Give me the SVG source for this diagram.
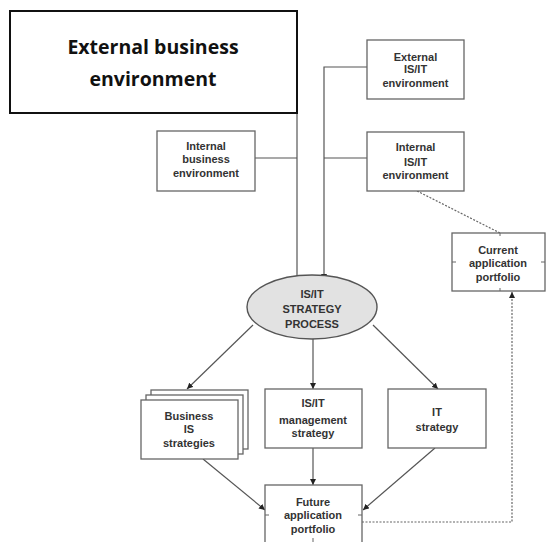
<svg xmlns="http://www.w3.org/2000/svg" width="546" height="542" viewBox="0 0 546 542">
<style>
.box{fill:#fff;stroke:#666;stroke-width:1.3}
.t{font-family:"Liberation Sans",Arial,sans-serif;font-weight:bold;font-size:11px;fill:#333;text-anchor:middle}
.c{fill:none;stroke:#555;stroke-width:1.2}
.d{fill:none;stroke:#666;stroke-width:1.2;stroke-dasharray:2 1.5}
.tick{stroke:#666;stroke-width:1}
</style>
<defs>
<marker id="ah" viewBox="0 0 10 10" refX="10" refY="5" markerWidth="6" markerHeight="6" orient="auto" markerUnits="userSpaceOnUse">
<path d="M0,0 L10,5 L0,10 z" fill="#222"/>
</marker>
</defs>
<rect width="546" height="542" fill="#fff"/>
<g id="connectors">
<path class="c" d="M297,113 V282" marker-end="url(#ah)"/>
<path class="c" d="M255,158 H297"/>
<path class="c" d="M367,67 H324 V280" marker-end="url(#ah)"/>
<path class="c" d="M367,158 H324"/>
<path class="c" d="M253,325 L187,389" marker-end="url(#ah)"/>
<path class="c" d="M313,339 V389" marker-end="url(#ah)"/>
<path class="c" d="M373,325 L438,389" marker-end="url(#ah)"/>
<path class="c" d="M313,448 V485" marker-end="url(#ah)"/>
<path class="c" d="M203,459 L265,510" marker-end="url(#ah)"/>
<path class="c" d="M435,448 L363,510" marker-end="url(#ah)"/>
<path class="d" d="M417,191 L500,233"/>
<path class="d" d="M362,522 H512 V292" marker-end="url(#ah)"/>
</g>
<g id="external-business">
<rect x="10" y="11" width="287" height="102" fill="#fff" stroke="#111" stroke-width="2"/>
<text x="153" y="54" font-family="'Open Sans','Liberation Sans',Arial,sans-serif" font-weight="bold" font-size="19.5" fill="#111" text-anchor="middle">External business</text>
<text x="153" y="86" font-family="'Open Sans','Liberation Sans',Arial,sans-serif" font-weight="bold" font-size="19.5" fill="#111" text-anchor="middle">environment</text>
</g>
<g id="external-isit">
<rect class="box" x="367" y="40" width="97" height="59"/>
<text class="t" x="415.5" y="61">External</text>
<text class="t" x="415.5" y="73">IS/IT</text>
<text class="t" x="415.5" y="87">environment</text>
</g>
<g id="internal-isit">
<rect class="box" x="367" y="132" width="97" height="59"/>
<text class="t" x="415.5" y="151">Internal</text>
<text class="t" x="415.5" y="166">IS/IT</text>
<text class="t" x="415.5" y="179">environment</text>
</g>
<g id="internal-business">
<rect class="box" x="157" y="131" width="98" height="60"/>
<text class="t" x="206" y="150">Internal</text>
<text class="t" x="206" y="163">business</text>
<text class="t" x="206" y="177">environment</text>
</g>
<g id="current-portfolio">
<rect class="box" x="452" y="233" width="93" height="58"/>
<text class="t" x="498" y="254">Current</text>
<text class="t" x="498" y="267">application</text>
<text class="t" x="498" y="281">portfolio</text>
<path class="tick" d="M452,262 h4 M541,262 h4 M500,233 v3 M500,288 v3"/>
</g>
<g id="strategy-process">
<ellipse cx="312" cy="307" rx="65" ry="32" fill="#e2e2e2" stroke="#555" stroke-width="1.4"/>
<text class="t" x="312" y="298" font-size="13.5">IS/IT</text>
<text class="t" x="312" y="313" font-size="13.5">STRATEGY</text>
<text class="t" x="312" y="328" font-size="13.5">PROCESS</text>
</g>
<g id="business-is">
<rect class="box" x="151" y="390" width="97" height="59"/>
<rect class="box" x="146" y="395" width="97" height="59"/>
<rect class="box" x="141" y="400" width="97" height="59"/>
<text class="t" x="189" y="420">Business</text>
<text class="t" x="189" y="433">IS</text>
<text class="t" x="189" y="447">strategies</text>
</g>
<g id="isit-management">
<rect class="box" x="265" y="389" width="97" height="59"/>
<text class="t" x="313" y="407">IS/IT</text>
<text class="t" x="313" y="424">management</text>
<text class="t" x="313" y="437">strategy</text>
</g>
<g id="it-strategy">
<rect class="box" x="388" y="389" width="98" height="59"/>
<text class="t" x="437" y="416">IT</text>
<text class="t" x="437" y="431">strategy</text>
</g>
<g id="future-portfolio">
<rect class="box" x="265" y="485" width="97" height="70"/>
<text class="t" x="313" y="506">Future</text>
<text class="t" x="313" y="519">application</text>
<text class="t" x="313" y="533">portfolio</text>
<path class="tick" d="M265,515 h4 M358,515 h4 M313,538 v4"/>
</g>
</svg>
